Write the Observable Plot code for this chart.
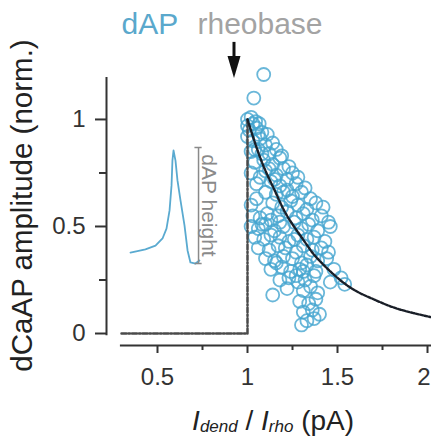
<!DOCTYPE html>
<html>
<head>
<meta charset="utf-8">
<script src="https://cdn.jsdelivr.net/npm/d3@7"></script>
<script src="https://cdn.jsdelivr.net/npm/@observablehq/plot@0.6"></script>
<style>
  html, body { margin: 0; padding: 0; background: #fff; }
  svg { overflow: visible; }
</style>
</head>
<body>
<div id="chart"></div>
<script>
// ---- data ----
const scatterX = [1.09,1.035,
  1.00,1.02,1.045,1.065,1.00,1.03,
  1.01,1.05,1.08,1.11,1.06,1.00,
  1.03,1.07,1.10,1.14,1.04,
  1.02,1.06,1.12,1.16,1.19,1.08,
  1.04,1.09,1.14,1.18,1.23,1.12,
  1.02,1.10,1.16,1.20,1.25,1.28,1.07,1.15,
  1.05,1.13,1.18,1.22,1.27,1.32,1.10,
  1.16,1.20,1.25,1.30,1.35,1.05,1.22,
  1.02,1.14,1.19,1.24,1.28,1.33,1.38,1.42,
  1.03,1.07,1.11,1.17,1.22,1.27,1.31,1.36,1.41,1.45,1.13,1.18,
  1.02,1.06,1.10,1.15,1.20,1.26,1.30,1.34,1.39,1.46,1.08,
  1.04,1.09,1.13,1.18,1.23,1.28,1.33,1.37,1.43,1.26,
  1.06,1.12,1.17,1.21,1.27,1.31,1.36,1.41,1.45,
  1.10,1.15,1.20,1.25,1.30,1.35,1.39,1.44,1.16,
  1.13,1.19,1.24,1.29,1.33,1.38,1.48,1.31,
  1.18,1.23,1.28,1.32,1.37,1.46,1.52,1.27,
  1.22,1.31,1.35,1.39,1.54,
  1.14,
  1.29,1.34,1.38,
  1.31,1.36,1.40,
  1.33,1.37,
  1.30];
const scatterY = [1.21,1.10,
  1.00,1.01,0.99,0.98,0.97,0.98,
  0.95,0.96,0.94,0.93,0.93,0.92,
  0.90,0.91,0.88,0.89,0.86,
  0.85,0.86,0.84,0.86,0.83,0.84,
  0.80,0.81,0.79,0.82,0.78,0.77,
  0.75,0.76,0.74,0.77,0.75,0.73,0.73,0.72,
  0.70,0.71,0.69,0.72,0.70,0.68,0.66,
  0.65,0.66,0.64,0.66,0.63,0.63,0.67,
  0.60,0.61,0.59,0.62,0.60,0.58,0.61,0.59,
  0.55,0.54,0.56,0.55,0.57,0.54,0.56,0.53,0.55,0.52,0.53,0.52,
  0.50,0.49,0.51,0.48,0.50,0.52,0.49,0.51,0.48,0.50,0.51,
  0.45,0.44,0.46,0.45,0.43,0.46,0.44,0.45,0.43,0.44,
  0.40,0.39,0.41,0.40,0.38,0.41,0.39,0.40,0.38,
  0.35,0.34,0.36,0.35,0.33,0.36,0.34,0.35,0.33,
  0.30,0.31,0.29,0.30,0.32,0.29,0.30,0.29,
  0.25,0.26,0.24,0.25,0.27,0.24,0.26,0.27,
  0.21,0.20,0.22,0.19,0.23,
  0.18,
  0.15,0.14,0.16,
  0.10,0.11,0.09,
  0.06,0.07,
  0.04];

const stepX = [0.3, 1.0, 1.0];
const stepY = [0.0, 0.0, 1.0];

const fitX = [1.00,1.05,1.10,1.15,1.20,1.25,1.30,1.35,1.40,1.50,1.60,1.70,1.80,1.90,2.00,2.03];
const fitY = [1.00,0.87,0.76,0.67,0.58,0.51,0.45,0.39,0.34,0.26,0.20,0.16,0.125,0.10,0.08,0.075];

const traceX = [0.35,0.433,0.489,0.528,0.55,0.567,0.578,0.583,0.589,0.60,0.611,0.628,0.65,0.667,0.683,0.711,0.733];
const traceY = [0.378,0.393,0.411,0.444,0.49,0.575,0.692,0.808,0.855,0.808,0.715,0.621,0.505,0.388,0.332,0.327,0.341];

const xTicksMajor = [0.5, 1, 1.5, 2];
const xTicksMinor = [0.75, 1.25, 1.75];
const yTicksMajor = [0, 0.5, 1];
const yTicksMinor = [0.25, 0.75];
const xTickLabels = ["0.5", "1", "1.5", "2"];
const yTickLabels = ["0", "0.5", "1"];

const titleWords = ["dAP", "rheobase"];
const yLabel = "dCaAP amplitude (norm.)";
const insetLabel = "dAP height";

// annotation anchors (data units)
const titlePos = [{x: 0.30, y: 1.445}, {x: 0.722, y: 1.445}];
const arrowShaft = {x: 0.925, y1: 1.36, y2: 1.27};
const arrowHead = {x: 0.925, y: 1.245};
const barPos = {x: 0.728, y1: 0.327, y2: 0.869, capL: 0.708, capR: 0.748};
const xTickLabelY = -0.205;

const xDomain = [0.2167, 2.0222];
const yDomain = [-0.056, 1.196];

const downTri = {
  draw(ctx, size) {
    ctx.moveTo(0, 11);
    ctx.lineTo(-6.5, -11);
    ctx.lineTo(6.5, -11);
    ctx.closePath();
  }
};

const scatter = scatterX.map((x, i) => ({x, y: scatterY[i]}));
const step = stepX.map((x, i) => ({x, y: stepY[i]}));
const fit = fitX.map((x, i) => ({x, y: fitY[i]}));
const trace = traceX.map((x, i) => ({x, y: traceY[i]}));
const xLab = xTicksMajor.map((x, i) => ({x, t: xTickLabels[i]}));

const axisColor = "#333";
const fontFam = "'Liberation Sans', Arial, sans-serif";

const plot = Plot.plot({
  width: 431,
  height: 438,
  marginLeft: 106,
  marginRight: 0,
  marginTop: 77,
  marginBottom: 93,
  style: {fontFamily: fontFam, background: "#fff", overflow: "visible"},
  x: {domain: xDomain, axis: null},
  y: {domain: yDomain, axis: null},
  marks: [
    // axis lines
    Plot.ruleY([yDomain[0]], {x1: 0.294, x2: 2.03, stroke: axisColor, strokeWidth: 2}),
    Plot.ruleX([xDomain[0]], {y1: -0.01, y2: 1.196, stroke: axisColor, strokeWidth: 2}),
    // x ticks
    Plot.axisX(xTicksMajor, {anchor: "bottom", tickSize: 8, strokeWidth: 2, stroke: axisColor, tickFormat: () => "", label: null}),
    Plot.axisX(xTicksMinor, {anchor: "bottom", tickSize: 5, strokeWidth: 2, stroke: axisColor, tickFormat: () => "", label: null}),
    Plot.text(xLab.slice(0, 3), {x: "x", y: xTickLabelY, text: "t", fontSize: 24, fill: axisColor}),
    Plot.text(xLab.slice(3), {x: "x", y: xTickLabelY, text: "t", fontSize: 24, fill: axisColor, textAnchor: "end", dx: 3}),
    // y ticks
    Plot.axisY(yTicksMajor, {anchor: "left", tickSize: 11, tickPadding: 10, strokeWidth: 2, stroke: axisColor, color: axisColor,
      fontSize: 24, tickFormat: (d) => yTickLabels[yTicksMajor.indexOf(d)], label: null}),
    Plot.axisY(yTicksMinor, {anchor: "left", tickSize: 7, strokeWidth: 2, stroke: axisColor, tickFormat: () => "", label: null}),
    // scatter
    Plot.dot(scatter, {x: "x", y: "y", r: 6.5, stroke: "#45a5d0", strokeWidth: 1.8, strokeOpacity: 0.8, fill: "none"}),
    // step threshold line
    Plot.line(step, {x: "x", y: "y", stroke: "#4a4a4a", strokeWidth: 2.5, strokeDasharray: "5,2,1.5,2"}),
    // fitted curve
    Plot.line(fit, {x: "x", y: "y", stroke: "#1a1f28", strokeWidth: 2.4, strokeDasharray: "3,1.6", curve: "natural"}),
    // inset trace
    Plot.line(trace, {x: "x", y: "y", stroke: "#5aaad0", strokeWidth: 1.8, curve: "linear"}),
    // height bar
    Plot.ruleX([barPos.x], {y1: barPos.y1, y2: barPos.y2, stroke: "#8a8a8a", strokeWidth: 1.5}),
    Plot.ruleY([barPos.y2], {x1: barPos.capL, x2: barPos.capR, stroke: "#8a8a8a", strokeWidth: 1.5}),
    Plot.ruleY([barPos.y1], {x1: barPos.capL, x2: barPos.capR, stroke: "#8a8a8a", strokeWidth: 1.5}),
    Plot.text([insetLabel], {x: 0.787, y: 0.598, text: (d) => d, rotate: 90, fontSize: 21, fill: "#8a8a8a"}),
    // arrow
    Plot.ruleX([arrowShaft.x], {y1: arrowShaft.y1, y2: arrowShaft.y2, stroke: "#111", strokeWidth: 3}),
    Plot.dot([arrowHead], {x: "x", y: "y", symbol: downTri, fill: "#111", stroke: "none"}),
    // title words
    Plot.text([titleWords[0]], {x: titlePos[0].x, y: titlePos[0].y, text: (d) => d, textAnchor: "start", fontSize: 30, fill: "#5aa8cc"}),
    Plot.text([titleWords[1]], {x: titlePos[1].x, y: titlePos[1].y, text: (d) => d, textAnchor: "start", fontSize: 30, fill: "#a3a3a3"}),
    // y label
    Plot.text([yLabel], {x: -0.25, y: 0.598, text: (d) => d, rotate: -90, fontSize: 29.5, fill: "#222"})
  ]
});

document.getElementById("chart").appendChild(plot);

// x label with subscripts
const sx = plot.scale("x"), sy = plot.scale("y");
const svg = d3.select(plot);
const xl = svg.append("text")
  .attr("x", sx.apply(1.145))
  .attr("y", sy.apply(-0.42))
  .attr("text-anchor", "middle")
  .attr("dominant-baseline", "middle")
  .attr("font-family", fontFam)
  .attr("font-size", 28)
  .attr("fill", "#222");
const xLabelParts = [
  {t: "I", italic: true, sub: false},
  {t: "dend", italic: true, sub: true},
  {t: " / ", italic: false, sub: false},
  {t: "I", italic: true, sub: false},
  {t: "rho", italic: true, sub: true},
  {t: " (pA)", italic: false, sub: false}
];
let prevSub = false;
xLabelParts.forEach((p) => {
  const ts = xl.append("tspan").text(p.t);
  if (p.italic) ts.attr("font-style", "italic");
  if (p.sub) ts.attr("font-size", 17);
  if (p.sub && !prevSub) ts.attr("dy", 5);
  if (!p.sub && prevSub) ts.attr("dy", -5);
  prevSub = p.sub;
});
</script>
</body>
</html>
